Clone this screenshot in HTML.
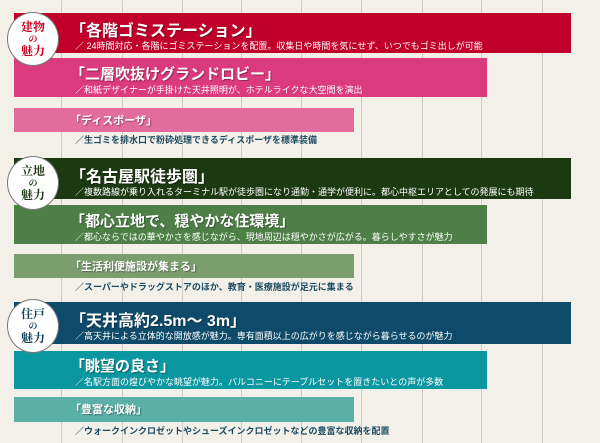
<!DOCTYPE html>
<html><head><meta charset="utf-8"><style>
body{margin:0;width:600px;height:443px;background:#f3f0ea;position:relative;overflow:hidden;font-family:"Liberation Sans","Noto Sans CJK JP",sans-serif;}
.g{position:absolute;top:0;width:1px;height:443px;background:#cfcbc4}
.b{position:absolute;left:14px}
.t{position:absolute;left:70px;color:#fff;font-weight:bold;white-space:nowrap;text-shadow:1px 1px 1px rgba(0,0,0,.35)}
.s{position:absolute;left:75px;color:#fff;font-size:9px;white-space:nowrap}
.c{position:absolute;left:7px;width:52px;height:54px;border-radius:50%;background:#fff;border:1.5px solid #777;text-align:center;font-family:"Noto Serif CJK SC",serif;font-weight:bold;line-height:13px;font-size:12px;box-sizing:border-box;padding-top:7px}
.c i{font-style:normal;font-size:9px;display:block;line-height:11px}
</style></head><body>
<div class="g" style="left:61px"></div><div class="g" style="left:122px"></div><div class="g" style="left:182px"></div><div class="g" style="left:241px"></div><div class="g" style="left:301px"></div><div class="g" style="left:361px"></div><div class="g" style="left:422px"></div><div class="g" style="left:481px"></div><div class="g" style="left:542px"></div>

<div class="b" style="top:13px;height:40px;width:557px;background:#c0002a"></div>
<div class="t" style="top:17px;font-size:16px">「各階ゴミステーション」</div>
<div class="s" style="top:39px">／ 24時間対応・各階にゴミステーションを配置。収集日や時間を気にせず、いつでもゴミ出しが可能</div>
<div class="b" style="top:58px;height:39px;width:473px;background:#db3a7c"></div>
<div class="t" style="top:63px;font-size:15px">「二層吹抜けグランドロビー」</div>
<div class="s" style="top:83px">／和紙デザイナーが手掛けた天井照明が、ホテルライクな大空間を演出</div>
<div class="b" style="top:108px;height:24px;width:340px;background:#e26c9c"></div>
<div class="t" style="top:112px;font-size:11px">「ディスポーザ」</div>
<div class="s" style="top:133px;color:#1a4a60;font-weight:bold">／生ゴミを排水口で粉砕処理できるディスポーザを標準装備</div>
<div class="c" style="top:12px;color:#c8001e">建物<i>の</i>魅力</div>

<div class="b" style="top:158px;height:41px;width:557px;background:#1c3a12"></div>
<div class="t" style="top:163px;font-size:16px">「名古屋駅徒歩圏」</div>
<div class="s" style="top:185px">／複数路線が乗り入れるターミナル駅が徒歩圏になり通勤・通学が便利に。都心中枢エリアとしての発展にも期待</div>
<div class="b" style="top:205px;height:39px;width:473px;background:#4e7f47"></div>
<div class="t" style="top:210px;font-size:15px">「都心立地で、穏やかな住環境」</div>
<div class="s" style="top:230px">／都心ならではの華やかさを感じながら、現地周辺は穏やかさが広がる。暮らしやすさが魅力</div>
<div class="b" style="top:254px;height:24px;width:340px;background:#7b9e6f"></div>
<div class="t" style="top:258px;font-size:11px">「生活利便施設が集まる」</div>
<div class="s" style="top:280px;color:#1a4a60;font-weight:bold">／スーパーやドラッグストアのほか、教育・医療施設が足元に集まる</div>
<div class="c" style="top:156px;color:#1f3a18">立地<i>の</i>魅力</div>

<div class="b" style="top:302px;height:42px;width:557px;background:#0e4a6a"></div>
<div class="t" style="top:307px;font-size:16px">「天井高約2.5m～ 3m」</div>
<div class="s" style="top:329px">／高天井による立体的な開放感が魅力。専有面積以上の広がりを感じながら暮らせるのが魅力</div>
<div class="b" style="top:351px;height:38px;width:473px;background:#0b97a0"></div>
<div class="t" style="top:355px;font-size:15px">「眺望の良さ」</div>
<div class="s" style="top:375px">／名駅方面の煌びやかな眺望が魅力。バルコニーにテーブルセットを置きたいとの声が多数</div>
<div class="b" style="top:397px;height:25px;width:340px;background:#5aafa6"></div>
<div class="t" style="top:401px;font-size:11px">「豊富な収納」</div>
<div class="s" style="top:424px;color:#1a4a60;font-weight:bold">／ウォークインクロゼットやシューズインクロゼットなどの豊富な収納を配置</div>
<div class="c" style="top:299px;color:#12425e">住戸<i>の</i>魅力</div>
</body></html>
